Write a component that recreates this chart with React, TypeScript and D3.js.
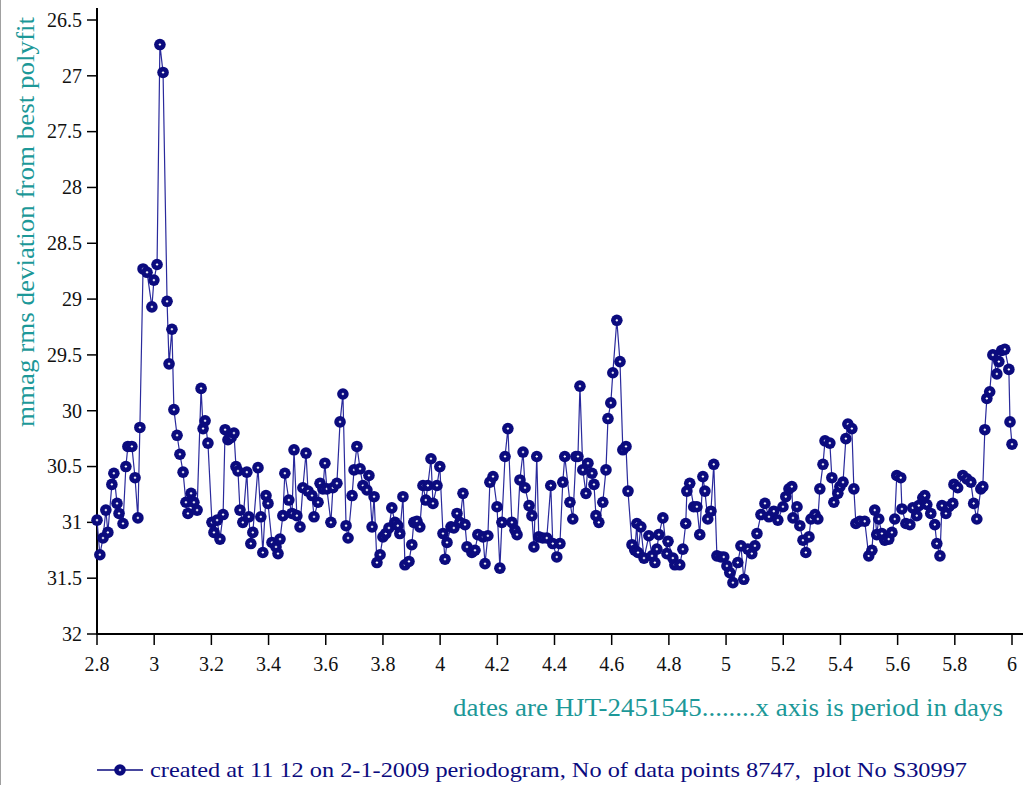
import React from "react";
import * as d3 from "d3";

// Trial period (days) and rms deviation (mmag) from the best polyfit
const periods = [
  2.800, 2.810, 2.821, 2.831, 2.838, 2.852, 2.859, 2.870, 2.877, 2.891,
  2.901, 2.908, 2.922, 2.933, 2.943, 2.950, 2.961, 2.975, 2.992, 2.999,
  3.010, 3.020, 3.031, 3.045, 3.052, 3.062, 3.069, 3.080, 3.090, 3.101,
  3.111, 3.118, 3.129, 3.139, 3.150, 3.164, 3.171, 3.178, 3.188, 3.202,
  3.209, 3.220, 3.230, 3.241, 3.248, 3.258, 3.269, 3.279, 3.286, 3.293,
  3.300, 3.310, 3.324, 3.331, 3.338, 3.345, 3.363, 3.373, 3.380, 3.391,
  3.398, 3.412, 3.426, 3.433, 3.440, 3.450, 3.457, 3.471, 3.482, 3.489,
  3.499, 3.510, 3.520, 3.531, 3.538, 3.552, 3.559, 3.573, 3.580, 3.590,
  3.597, 3.604, 3.618, 3.625, 3.639, 3.650, 3.660, 3.671, 3.678, 3.692,
  3.699, 3.709, 3.720, 3.730, 3.744, 3.751, 3.762, 3.769, 3.779, 3.790,
  3.800, 3.810, 3.821, 3.831, 3.842, 3.852, 3.859, 3.870, 3.877, 3.891,
  3.901, 3.908, 3.919, 3.929, 3.940, 3.950, 3.957, 3.968, 3.975, 3.989,
  3.999, 4.010, 4.017, 4.024, 4.038, 4.048, 4.059, 4.069, 4.080, 4.087,
  4.094, 4.111, 4.122, 4.132, 4.150, 4.157, 4.167, 4.174, 4.185, 4.199,
  4.209, 4.216, 4.227, 4.237, 4.251, 4.262, 4.269, 4.279, 4.290, 4.297,
  4.311, 4.321, 4.328, 4.338, 4.345, 4.359, 4.373, 4.387, 4.394, 4.408,
  4.419, 4.429, 4.436, 4.454, 4.464, 4.475, 4.482, 4.489, 4.499, 4.510,
  4.517, 4.531, 4.538, 4.545, 4.555, 4.569, 4.580, 4.587, 4.597, 4.604,
  4.618, 4.629, 4.639, 4.650, 4.657, 4.671, 4.681, 4.688, 4.692, 4.702,
  4.713, 4.730, 4.741, 4.751, 4.758, 4.765, 4.779, 4.793, 4.797, 4.814,
  4.821, 4.838, 4.849, 4.859, 4.863, 4.873, 4.887, 4.898, 4.908, 4.919,
  4.926, 4.936, 4.947, 4.957, 4.968, 4.982, 4.992, 5.003, 5.013, 5.024,
  5.041, 5.052, 5.062, 5.076, 5.090, 5.101, 5.108, 5.122, 5.136, 5.150,
  5.167, 5.181, 5.199, 5.209, 5.220, 5.230, 5.234, 5.248, 5.258, 5.269,
  5.279, 5.290, 5.297, 5.311, 5.321, 5.328, 5.339, 5.346, 5.363, 5.370,
  5.377, 5.391, 5.398, 5.409, 5.419, 5.426, 5.440, 5.447, 5.454, 5.468,
  5.485, 5.499, 5.510, 5.520, 5.527, 5.534, 5.545, 5.555, 5.569, 5.580,
  5.590, 5.597, 5.611, 5.615, 5.629, 5.643, 5.653, 5.667, 5.674, 5.688,
  5.695, 5.702, 5.716, 5.730, 5.737, 5.748, 5.755, 5.769, 5.779, 5.793,
  5.797, 5.810, 5.828, 5.842, 5.856, 5.866, 5.877, 5.891, 5.898, 5.905,
  5.912, 5.922, 5.933, 5.947, 5.954, 5.964, 5.975, 5.989, 5.993, 6.000,
];

const rmsDeviation = [
  30.98, 31.29, 31.14, 30.89, 31.09, 30.66, 30.56, 30.83, 30.92, 31.01,
  30.50, 30.32, 30.32, 30.60, 30.96, 30.15, 28.73, 28.76, 29.07, 28.83,
  28.69, 26.72, 26.97, 29.02, 29.58, 29.27, 29.99, 30.22, 30.39, 30.55,
  30.82, 30.92, 30.74, 30.82, 30.89, 29.80, 30.16, 30.09, 30.29, 31.00,
  31.09, 30.98, 31.15, 30.93, 30.17, 30.26, 30.24, 30.20, 30.50, 30.54,
  30.89, 31.00, 30.55, 30.95, 31.19, 31.09, 30.51, 30.95, 31.27, 30.76,
  30.83, 31.18, 31.22, 31.28, 31.15, 30.94, 30.56, 30.80, 30.92, 30.35,
  30.94, 31.04, 30.69, 30.38, 30.72, 30.76, 30.95, 30.82, 30.65, 30.70,
  30.47, 30.70, 31.00, 30.69, 30.65, 30.10, 29.85, 31.03, 31.14, 30.76,
  30.53, 30.32, 30.52, 30.67, 30.71, 30.58, 31.04, 30.77, 31.36, 31.29,
  31.13, 31.10, 31.05, 30.87, 31.00, 31.03, 31.10, 30.77, 31.38, 31.35,
  31.20, 31.00, 30.99, 31.04, 30.67, 30.80, 30.67, 30.43, 30.83, 30.67,
  30.50, 31.10, 31.33, 31.18, 31.04, 31.05, 30.92, 31.00, 30.74, 31.02,
  31.22, 31.27, 31.25, 31.11, 31.13, 31.37, 31.12, 30.64, 30.59, 30.86,
  31.41, 31.00, 30.41, 30.16, 31.00, 31.07, 31.11, 30.62, 30.37, 30.69,
  30.85, 30.94, 31.22, 30.41, 31.13, 31.14, 31.14, 30.67, 31.19, 31.31,
  31.19, 30.64, 30.41, 30.82, 30.97, 30.41, 30.41, 29.78, 30.53, 30.74,
  30.47, 30.56, 30.66, 30.94, 31.00, 30.82, 30.53, 30.07, 29.93, 29.66,
  29.19, 29.56, 30.35, 30.32, 30.72, 31.20, 31.25, 31.01, 31.27, 31.04,
  31.32, 31.12, 31.30, 31.36, 31.24, 31.11, 30.96, 31.28, 31.17, 31.32,
  31.38, 31.38, 31.24, 31.01, 30.72, 30.65, 30.86, 30.86, 31.11, 30.59,
  30.72, 30.97, 30.90, 30.48, 31.30, 31.31, 31.31, 31.39, 31.45, 31.54,
  31.36, 31.21, 31.51, 31.24, 31.28, 31.21, 31.10, 30.93, 30.83, 30.95,
  30.90, 30.98, 30.86, 30.77, 30.70, 30.68, 30.96, 30.86, 31.03, 31.16,
  31.27, 31.13, 30.97, 30.93, 30.97, 30.70, 30.48, 30.27, 30.29, 30.60,
  30.82, 30.74, 30.68, 30.64, 30.25, 30.12, 30.16, 30.70, 31.01, 30.99,
  30.99, 31.30, 31.25, 30.89, 31.11, 30.97, 31.10, 31.16, 31.15, 31.09,
  30.97, 30.58, 30.60, 30.88, 31.01, 31.02, 30.87, 30.94, 30.85, 30.78,
  30.76, 30.84, 30.92, 31.02, 31.19, 31.30, 30.85, 30.92, 30.86, 30.83,
  30.66, 30.69, 30.58, 30.61, 30.64, 30.83, 30.97, 30.70, 30.68, 30.17,
  29.89, 29.83, 29.50, 29.67, 29.56, 29.46, 29.45, 29.63, 30.10, 30.30,
];

const xTicks = [2.8, 3, 3.2, 3.4, 3.6, 3.8, 4, 4.2, 4.4, 4.6, 4.8, 5, 5.2, 5.4, 5.6, 5.8, 6];
const xTickLabels = ["2.8", "3", "3.2", "3.4", "3.6", "3.8", "4", "4.2", "4.4", "4.6", "4.8", "5", "5.2", "5.4", "5.6", "5.8", "6"];
const yTicks = [26.5, 27, 27.5, 28, 28.5, 29, 29.5, 30, 30.5, 31, 31.5, 32];
const yTickLabels = ["26.5", "27", "27.5", "28", "28.5", "29", "29.5", "30", "30.5", "31", "31.5", "32"];

const yTitle = "mmag rms deviation from best polyfit";
const xTitle = "dates are HJT-2451545........x axis is period in days";
const legendText = "created at 11 12 on 2-1-2009 periodogram, No of data points 8747,  plot No S30997";

const SERIF = "'Liberation Serif', 'Times New Roman', serif";
const NAVY = "#0b0b7e";
const LINE = "#2a2a9c";
const TEAL = "#1c9898";

function Marker({ cx, cy }: { cx: number; cy: number }) {
  return (
    <g>
      <circle cx={cx} cy={cy} r={5.8} fill={NAVY} />
      <line x1={cx - 1.2} x2={cx + 1.2} y1={cy} y2={cy} stroke="#fff" strokeWidth={1} />
      <line x1={cx} x2={cx} y1={cy - 1.2} y2={cy + 1.2} stroke="#fff" strokeWidth={1} />
    </g>
  );
}

export default function App() {
  const W = 1027;
  const H = 785;
  const left = 97;
  const right = 1012;
  const top = 20;
  const bottom = 634;

  const x = d3.scaleLinear().domain([2.8, 6]).range([left, right]);
  const y = d3.scaleLinear().domain([26.5, 32]).range([top, bottom]);

  const points = periods.map((p, i) => [p, rmsDeviation[i]] as [number, number]);
  const path = d3
    .line<[number, number]>()
    .x((d) => x(d[0]))
    .y((d) => y(d[1]))(points) as string;

  return (
    <svg
      width={W}
      height={H}
      viewBox={`0 0 ${W} ${H}`}
      style={{ position: "absolute", left: 0, top: 0, background: "#fff" }}
      fontFamily={SERIF}
    >
      <rect x={0} y={0} width={W} height={H} fill="#fff" />
      <line x1={0.5} x2={0.5} y1={0} y2={H} stroke="#a0a0a0" strokeWidth={1} />

      {/* axes */}
      <line x1={left} x2={left} y1={8} y2={bottom + 1} stroke="#000" strokeWidth={2} />
      <line x1={left - 1} x2={1023} y1={bottom} y2={bottom} stroke="#000" strokeWidth={2} />

      {yTicks.map((t, i) => (
        <g key={`y${i}`}>
          <line x1={left - 10} x2={left} y1={y(t)} y2={y(t)} stroke="#000" strokeWidth={1.5} />
          <text
            x={left - 15}
            y={y(t)}
            dy="0.34em"
            textAnchor="end"
            fontSize={20}
            fill="#111"
          >
            {yTickLabels[i]}
          </text>
        </g>
      ))}

      {xTicks.map((t, i) => (
        <g key={`x${i}`}>
          <line x1={x(t)} x2={x(t)} y1={bottom} y2={bottom + 11} stroke="#000" strokeWidth={1.5} />
          <text x={x(t)} y={671} textAnchor="middle" fontSize={20} fill="#111">
            {xTickLabels[i]}
          </text>
        </g>
      ))}

      {/* titles */}
      <text
        transform={`translate(34,222) rotate(-90)`}
        textAnchor="middle"
        fontSize={25}
        textLength={410}
        lengthAdjust="spacingAndGlyphs"
        fill={TEAL}
      >
        {yTitle}
      </text>
      <text
        x={453}
        y={716}
        fontSize={25}
        textLength={550}
        lengthAdjust="spacingAndGlyphs"
        fill={TEAL}
      >
        {xTitle}
      </text>

      {/* series */}
      <path d={path} fill="none" stroke={LINE} strokeWidth={1.2} />
      {points.map((d, i) => (
        <Marker key={i} cx={x(d[0])} cy={y(d[1])} />
      ))}

      {/* legend */}
      <line x1={97} x2={143} y1={770} y2={770} stroke={NAVY} strokeWidth={1.5} />
      <Marker cx={120} cy={770} />
      <text
        x={150}
        y={777}
        fontSize={22}
        textLength={817}
        lengthAdjust="spacingAndGlyphs"
        fill={NAVY}
        style={{ whiteSpace: "pre" }}
      >
        {legendText}
      </text>
    </svg>
  );
}
